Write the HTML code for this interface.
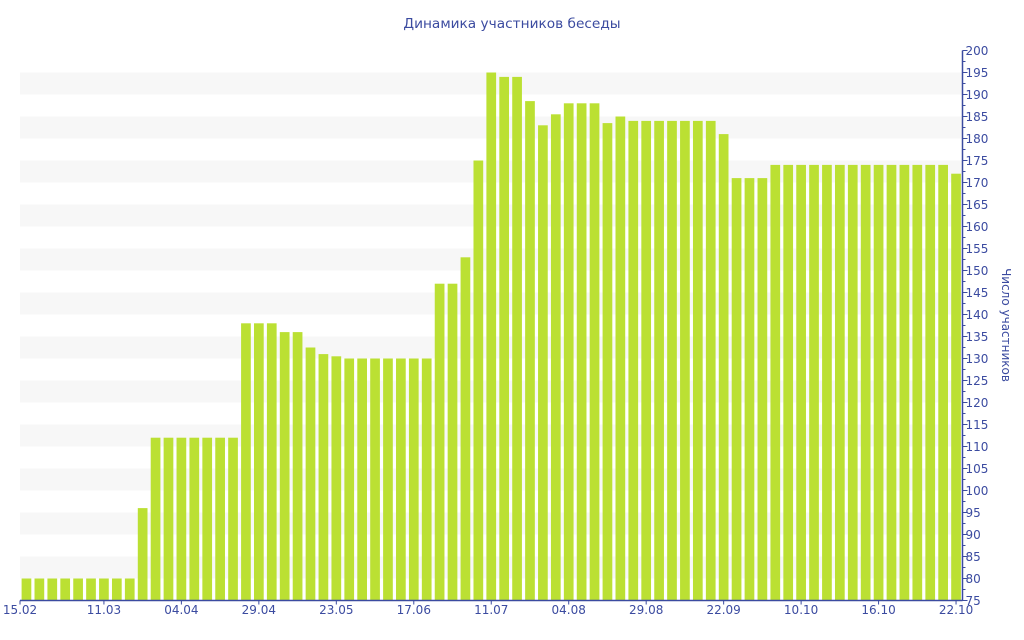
<!DOCTYPE html>
<html><head><meta charset="utf-8"><style>
html,body{margin:0;padding:0;background:#fff;}
svg{display:block;font-family:"DejaVu Sans","Liberation Sans",sans-serif;}
</style></head><body>
<svg id="chart" width="1024" height="640" viewBox="0 0 1024 640" xmlns="http://www.w3.org/2000/svg">
<text x="512" y="28" text-anchor="middle" font-size="13.7" fill="#3b4ba0">Динамика участников беседы</text>
<g id="bands"></g><g id="bars"></g><g id="axes"></g>
<text transform="translate(1002,325) rotate(90)" text-anchor="middle" font-size="12" fill="#3b4ba0">Число участников</text>
</svg>
<script>
const values = [80,80,80,80,80,80,80,80,80,96,112,112,112,112,112,112,112,138,138,138,136,136,132.5,131,130.5,130,130,130,130,130,130,130,147,147,153,175,195,194,194,188.5,183,185.5,188,188,188,183.5,185,184,184,184,184,184,184,184,181,171,171,171,174,174,174,174,174,174,174,174,174,174,174,174,174,174,172];
const tickLabels = ["15.02","11.03","04.04","29.04","23.05","17.06","11.07","04.08","29.08","22.09","10.10","16.10","22.10"];
const yTicks = [75,80,85,90,95,100,105,110,115,120,125,130,135,140,145,150,155,160,165,170,175,180,185,190,195,200];
const NS="http://www.w3.org/2000/svg";
const X0=20,X1=962.5,Y0=600.5,Y1=50.5,VMIN=75,VMAX=200;
const pitch=(X1-X0)/values.length;
const yS=v=>Y0-(v-VMIN)/(VMAX-VMIN)*(Y0-Y1);
function mk(tag,attrs,parent){const e=document.createElementNS(NS,tag);for(const k in attrs)e.setAttribute(k,attrs[k]);parent.appendChild(e);return e;}
const bands=document.getElementById('bands'),bars=document.getElementById('bars'),axes=document.getElementById('axes');
for(let v=80;v<195;v+=10){
  const r=mk('rect',{x:X0,y:yS(v+5),width:X1-X0,height:yS(v)-yS(v+5),fill:'#f7f7f7'},bands);
  
  
}
values.forEach((v,i)=>{
  const r=mk('rect',{x:X0+i*pitch+1.6,y:yS(v),width:pitch-3.2,height:Y0-yS(v),fill:'#bbe033'},bars);
  
  
});
const xa=mk('line',{x1:X0,y1:Y0,x2:X1,y2:Y0,stroke:'#3b4ba0','stroke-width':1.5},axes);


const ya=mk('line',{x1:X1,y1:Y1,x2:X1,y2:Y0,stroke:'#3b4ba0','stroke-width':1.5},axes);


tickLabels.forEach((t,k)=>{
  const cx=k===0?X0:X0+(k*6+0.5)*pitch;
  mk('line',{x1:cx,y1:Y0,x2:cx,y2:Y0+4,stroke:'#3b4ba0'},axes);
  const tx=mk('text',{x:cx,y:614,'text-anchor':'middle','font-size':12,fill:'#3b4ba0'},axes);
  tx.textContent=t;
  
  
});
for(let v=VMIN;v<=VMAX;v+=2.5){
  const major=v%5===0;
  mk('line',{x1:X1,y1:yS(v),x2:X1+(major?5:3),y2:yS(v),stroke:'#3b4ba0'},axes);
}
yTicks.forEach(v=>{
  const tx=mk('text',{x:X1+3,y:yS(v)+4.5,'font-size':12,fill:'#3b4ba0'},axes);
  tx.textContent=v;
  
  
});
</script>
</body></html>
